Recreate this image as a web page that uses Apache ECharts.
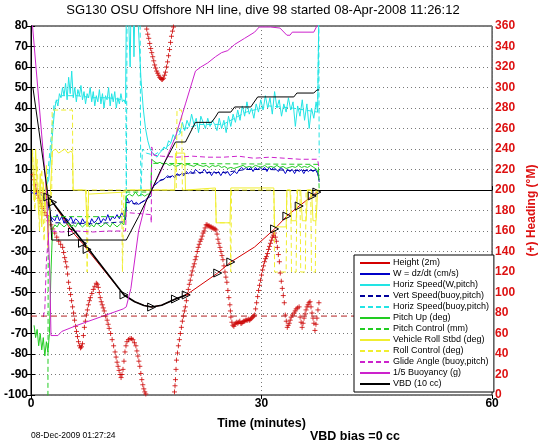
<!DOCTYPE html>
<html><head><meta charset="utf-8">
<script src="https://cdn.jsdelivr.net/npm/echarts@6/dist/echarts.min.js"></script>
<style>html,body{margin:0;padding:0;background:#fff}#c{width:546px;height:442px}</style>
</head><body><div id="c"></div><script>
// ---- tick labels / axes ----
const xTicks = [0, 30, 60];
const leftRange = [-100, 80];
const rightRange = [0, 360];

// ---- series values: [time (min), value] ----
const heightLine = [[0.5,-0.5],[1.5,-1.5],[2.2,-3.4],[2.8,-6],[5.4,-20.5],[6.7,-26],[7.3,-29],[12.1,-51.2],[13.5,-54.5],[14.7,-56.3],[15.7,-57.1],[17.0,-56.2],[18.8,-53.2],[20.2,-51.2],[22.0,-46.5],[24.3,-40.5],[26.0,-35.1],[29.1,-27.8],[31.7,-19.0],[33.3,-12.7],[34.9,-7.8],[36.6,-2.9],[37.2,-1.0]];
const heightMarks = [[2.2,-3.4],[2.8,-6],[5.4,-20.5],[6.7,-26],[7.3,-29],[12.1,-51.2],[15.7,-57.1],[18.8,-53.2],[20.2,-51.2],[24.3,-40.5],[26.0,-35.1],[31.7,-19.0],[33.3,-12.7],[34.9,-7.8],[36.6,-2.9],[37.2,-1.0]];
const heightDark = [[2.2,-3.4],[2.8,-6],[12.1,-51.2],[13.5,-54.5],[14.7,-56.3],[15.7,-57.1],[17.0,-56.2],[18.8,-53.2],[20.2,-51.2]];

const wSpeed = [[0,-1],[0.5,-2],[1.0,-1],[1.5,-3],[2.0,-5],[2.3,-9],[2.6,-13],[2.8,-13],[3.1,-15],[3.4,-12],[3.7,-15],[4.0,-13],[4.3,-16],[4.6,-14],[4.9,-15],[5.2,-13],[5.5,-16],[5.8,-14],[6.1,-15],[6.4,-17],[6.7,-14],[7.0,-16],[7.3,-15],[7.6,-17],[7.9,-14],[8.2,-16],[8.5,-15],[8.8,-13],[9.1,-16],[9.4,-14],[9.7,-15],[10.0,-12],[10.3,-15],[10.6,-13],[10.9,-14],[11.2,-12],[11.5,-14],[11.8,-11],[12.1,-13],[12.3,-12],[12.5,-4],[12.8,-6],[13.1,-5],[13.4,-7],[13.7,-6],[14.0,-7],[14.4,-6],[14.9,-5],[15.3,-3],[15.7,0],[16.0,2],[16.3,3],[16.6,4],[16.9,5],[17.2,5],[17.5,6],[17.8,7],[18.1,6],[18.4,7],[18.7,6],[19.0,8],[19.3,7],[19.6,8],[19.9,7],[20.2,9],[20.5,8],[20.8,9],[21.1,8],[21.4,10],[21.7,9],[22.0,8],[22.3,9],[22.6,10],[22.9,8],[23.2,9],[23.5,7],[23.8,9],[24.1,8],[24.4,9],[24.7,7],[25.0,9],[25.3,8],[25.6,9],[25.9,7],[26.2,8],[26.5,9],[26.8,8],[27.1,10],[27.4,11],[27.7,10],[28.0,11],[28.3,10],[28.6,11],[28.9,9],[29.2,11],[29.5,10],[29.8,11],[30.1,10],[30.4,11],[30.7,9],[31.0,11],[31.3,10],[31.6,11],[31.9,10],[32.2,9],[32.5,11],[32.8,10],[33.1,8],[33.4,10],[33.7,9],[34.0,10],[34.3,8],[34.6,10],[34.9,9],[35.2,10],[35.5,8],[35.8,10],[36.1,9],[36.4,10],[36.7,9],[37.0,10],[37.3,8],[37.5,5]];

const horizSpeedW = [[1.8,0],[2.3,5],[2.6,18],[2.9,32],[3.1,40],[3.3,44],[3.5,41],[3.7,47],[3.9,45],[4.1,50],[4.3,46],[4.5,52],[4.7,44],[4.9,55],[5.1,47],[5.3,58],[5.5,45],[5.7,50],[5.9,43],[6.1,49],[6.3,46],[6.5,51],[6.7,44],[6.9,48],[7.1,42],[7.3,47],[7.5,45],[7.7,50],[7.9,43],[8.1,48],[8.3,41],[8.5,46],[8.7,43],[8.9,49],[9.1,42],[9.3,47],[9.5,40],[9.7,46],[9.9,44],[10.1,50],[10.3,41],[10.5,47],[10.7,43],[10.9,48],[11.1,40],[11.3,45],[11.5,42],[11.7,47],[11.9,43],[12.1,44],[12.3,42],[12.4,85],[12.7,85],[12.9,60],[13.0,85],[13.3,85],[13.4,65],[13.5,85],[13.9,85],[14.1,70],[14.3,55],[14.6,40],[14.9,30],[15.2,24],[15.5,20],[15.8,18],[16.1,17],[16.4,16],[16.7,18],[17.0,19],[17.3,21],[17.6,20],[17.9,24],[18.2,23],[18.5,27],[18.8,25],[19.1,30],[19.4,28],[19.7,33],[20.0,29],[20.3,34],[20.6,31],[20.9,37],[21.2,32],[21.5,35],[21.8,28],[22.1,36],[22.4,33],[22.7,30],[23.0,35],[23.3,31],[23.6,34],[23.9,32],[24.2,29],[24.5,35],[24.8,30],[25.1,34],[25.4,28],[25.7,36],[26.0,31],[26.3,37],[26.6,33],[26.9,39],[27.2,34],[27.5,41],[27.8,36],[28.1,43],[28.4,37],[28.7,40],[29.0,35],[29.3,42],[29.6,38],[29.9,44],[30.2,39],[30.5,46],[30.8,40],[31.1,45],[31.4,37],[31.7,48],[32.0,40],[32.3,44],[32.6,36],[32.9,42],[33.2,38],[33.5,45],[33.8,39],[34.1,43],[34.4,31],[34.7,41],[35.0,36],[35.3,44],[35.6,34],[35.9,42],[36.2,30],[36.5,40],[36.8,35],[37.1,43],[37.3,38],[37.45,85]];

const vertSpeedBuoy = [[1.8,-2],[2.3,-8],[2.7,-15],[3.0,-16],[5,-16],[8,-16.5],[10,-16],[12.3,-15.5],[12.4,-6],[14,-7],[15.6,-3],[15.7,1],[16.5,4],[18,6.5],[20,8],[22,8.5],[25,8.5],[28,10],[31,10],[34,9.5],[37.3,9.5],[37.5,4]];

const horizSpeedBuoy = [[2.0,0],[2.6,25],[3.0,42],[4,46],[6,46],[8,45],[10,45],[12,44],[12.35,43],[12.4,-8],[12.5,85],[14.2,85],[14.25,29],[14.3,-3],[14.5,20],[15,18],[16,17],[18,22],[20,30],[22,32],[25,32],[28,38],[31,41],[34,40],[37.3,38],[37.45,85],[37.5,16]];

const pitchUp = [[0.4,-66],[0.6,-72],[0.8,-68],[1.0,-76],[1.2,-70],[1.4,-78],[1.6,-72],[1.8,-81],[2.0,-74],[2.2,-79],[2.4,-70],[2.6,-40],[2.8,-19],[3.1,-17],[3.4,-18],[3.7,-16],[4.0,-17],[4.3,-18],[4.6,-17],[4.9,-16],[5.2,-18],[5.5,-17],[5.8,-18],[6.1,-16],[6.4,-17],[6.7,-18],[7.0,-17],[7.3,-16],[7.6,-18],[7.9,-17],[8.2,-18],[8.5,-16],[8.8,-17],[9.1,-18],[9.4,-17],[9.7,-16],[10.0,-17],[10.3,-18],[10.6,-16],[10.9,-17],[11.2,-18],[11.5,-17],[11.8,-16],[12.1,-17],[12.3,-17],[12.4,-3],[12.8,-2],[13.2,-3],[13.6,-1],[14.0,-3],[14.4,-2],[14.8,-3],[15.2,-2],[15.6,-2],[15.7,15],[16.0,14],[16.4,13],[16.8,13.5],[17.2,12.5],[17.6,13],[18.0,12],[18.4,12.5],[18.8,11.5],[19.2,12],[19.6,13],[20.0,12],[20.4,12.5],[20.8,12],[21.2,11.5],[21.6,12.5],[22.0,12],[22.4,11.5],[22.8,12],[23.2,11],[23.6,12],[24.0,11.5],[24.4,12],[24.8,11],[25.2,11.5],[25.6,10.5],[26.0,11],[26.4,10.5],[26.8,11],[27.2,11.5],[27.6,12],[28.0,11],[28.4,11.5],[28.8,11],[29.2,12],[29.6,11.5],[30.0,11],[30.4,12],[30.8,11],[31.2,11.5],[31.6,11],[32.0,12],[32.4,11],[32.8,11.5],[33.2,10.5],[33.6,11],[34.0,11.5],[34.4,11],[34.8,12],[35.2,11],[35.6,11.5],[36.0,11],[36.4,12],[36.8,11],[37.2,10],[37.5,7]];

const pitchControl = [[0.3,-105],[2.2,-105],[2.25,-13],[12.3,-13],[12.4,-1],[15.6,-1],[15.7,13],[37.4,12.5],[37.5,0]];

const rollStbd = [[0.2,18],[0.4,-5],[0.6,20],[0.8,2],[1.0,-12],[1.2,8],[1.4,-18],[1.6,4],[1.8,-10],[2.0,12],[2.2,-28],[2.5,-2],[2.8,19],[3.2,20],[3.6,18],[4.0,19],[4.4,20],[4.8,18],[5.2,19],[5.4,18],[5.5,0],[7.1,0],[7.3,-18],[7.5,-2],[12.3,-1],[12.4,0],[18.7,0],[18.8,18],[20.0,18],[20.1,0],[24.0,1],[24.1,-16],[25.9,-16],[26.0,1],[31.6,1],[31.7,-18],[33.2,-18],[33.3,0],[33.7,0],[33.9,-15],[34.5,-15],[34.7,0],[35.1,0],[35.3,-15],[35.8,-15],[36.0,0],[36.5,0],[36.7,-15],[37.1,-15],[37.3,0],[37.5,0]];

const rollControl = [[0.2,20],[0.5,-10],[0.8,15],[1.1,-20],[1.4,10],[1.7,-25],[2.0,5],[2.4,-10],[2.7,0],[2.75,39],[5.4,39],[5.45,0],[7.2,0],[7.3,-40],[7.5,0],[11.8,0],[11.9,-40],[12.1,0],[18.9,0],[19.0,39],[19.6,39],[19.7,0],[24.0,0],[24.1,-16],[25.9,-16],[26.0,-40],[26.1,0],[31.6,0],[31.7,-40],[33.2,-40],[33.3,0],[33.8,0],[33.9,-40],[34.5,-40],[34.6,0],[35.0,0],[35.1,-40],[35.7,-40],[35.8,0],[36.4,0],[36.5,-40],[37.0,-40],[37.1,0],[37.5,0]];

const glideAngle = [[1.6,-62],[1.8,-58],[2.0,-35],[2.3,-21],[2.6,-20],[4,-20.5],[6,-20],[8,-20.5],[10,-20],[12.3,-20],[12.4,-11],[15.6,-12],[15.65,-16],[15.7,21],[16.0,17],[17,16.5],[19,16],[21,16.5],[23,16],[25,16],[27,16.5],[29,15.5],[31,16],[33,15.5],[35,15],[37.3,15],[37.5,10]];

const buoyancy = [[0,85],[0.2,80],[2.0,0],[2.45,-40],[2.6,-71],[3.5,-71],[4.0,-69],[6,-66],[9,-62],[12.0,-58],[12.4,-57],[13.0,-48],[14.0,-20],[15.0,-5],[15.7,0],[17.0,10],[18.8,26],[20.1,42],[21.4,58],[22.1,60],[23.0,62],[24.0,65],[24.8,67],[25.6,68],[26.5,71],[27.8,74],[29.1,77],[29.7,79.5],[31.2,79.5],[32.4,79],[33.3,75.5],[33.7,75.5],[34.0,77],[36.8,77],[37.2,80],[37.4,85]];

const vbd = [[0.25,50],[2.3,-5],[2.5,-10],[2.7,-24.4],[12.4,-24.4],[14.0,-13],[15.7,0],[17.0,10.7],[18.8,23.4],[20.1,23.4],[21.4,33],[23.5,33],[24.0,35.6],[24.4,38],[26.0,38],[26.5,40.5],[28.6,40.5],[29.5,45.4],[34.2,45.4],[34.6,47.3],[36.8,47.3],[37.2,48.8],[37.5,48.8]];

// heading (degrees, right axis)
const heading = [[0.26,215],[0.39,210],[0.52,205],[0.64,201],[0.77,198],[0.90,195],[1.03,192],[1.16,190],[1.29,187],[1.42,184],[1.55,182],[1.80,178],[2.06,175],[2.32,170],[2.58,166],[2.83,162],[3.09,158],[3.35,154],[3.61,150],[3.86,147],[4.12,144],[4.25,139],[4.38,134],[4.51,130],[4.64,125],[4.76,118],[4.89,110],[5.02,104],[5.15,98],[5.28,92],[5.41,86],[5.54,80],[5.67,73],[5.80,67],[5.92,62],[6.05,57],[6.18,52],[6.31,48],[6.44,46],[6.57,47],[6.70,50],[6.82,58],[6.95,66],[7.08,72],[7.21,78],[7.34,83],[7.47,88],[7.60,92],[7.73,95],[7.92,99],[8.11,103],[8.30,106],[8.50,109],[8.63,108],[8.76,105],[8.89,100],[9.01,95],[9.14,91],[9.27,88],[9.40,85],[9.53,82],[9.72,77],[9.91,73],[10.04,69],[10.17,65],[10.36,60],[10.56,54],[10.75,48],[10.94,42],[11.07,37],[11.20,32],[11.33,28],[11.46,24],[11.59,20],[11.72,17],[11.84,20],[11.97,25],[12.10,33],[12.23,42],[12.36,48],[12.49,52],[12.68,54],[12.88,55],[13.07,55],[13.26,54],[13.46,51],[13.65,48],[13.78,43],[13.91,38],[14.04,33],[14.16,28],[14.29,21],[14.42,15],[14.55,10],[14.68,6],[14.81,3],[14.94,1],[15.06,357],[15.19,352],[15.32,348],[15.45,343],[15.58,338],[15.71,334],[15.84,330],[15.97,326],[16.09,322],[16.22,319],[16.35,316],[16.48,314],[16.61,312],[16.74,310],[16.87,309],[17.00,308],[17.12,308],[17.25,309],[17.38,312],[17.51,315],[17.64,320],[17.77,325],[17.90,331],[18.03,337],[18.16,344],[18.28,350],[18.41,355],[18.54,359],[18.67,3],[18.74,9],[18.80,15],[18.87,25],[18.93,34],[19.06,41],[19.18,48],[19.31,54],[19.44,60],[19.57,66],[19.70,72],[19.83,77],[19.96,82],[20.09,86],[20.22,92],[20.34,98],[20.47,103],[20.60,108],[20.73,112],[20.86,117],[20.99,121],[21.12,125],[21.25,128],[21.37,132],[21.50,135],[21.63,140],[21.76,144],[21.89,147],[22.02,150],[22.15,152],[22.28,155],[22.40,158],[22.53,160],[22.66,163],[22.79,166],[22.92,166],[23.05,165],[23.18,165],[23.31,164],[23.44,164],[23.56,163],[23.69,163],[23.82,162],[23.95,162],[24.08,161],[24.21,157],[24.33,152],[24.46,148],[24.59,144],[24.72,140],[24.85,136],[24.98,132],[25.11,126],[25.24,120],[25.36,115],[25.49,110],[25.62,102],[25.75,95],[25.88,88],[25.95,82],[26.01,76],[26.14,71],[26.27,68],[26.40,67],[26.52,69],[26.65,70],[26.78,71],[26.91,70],[27.04,71],[27.17,72],[27.30,70],[27.42,70],[27.55,71],[27.68,72],[27.81,72],[27.94,73],[28.07,73],[28.20,73],[28.33,74],[28.45,73],[28.58,74],[28.71,75],[28.84,76],[28.97,77],[29.10,78],[29.23,84],[29.36,90],[29.49,96],[29.61,102],[29.74,107],[29.87,112],[30.00,117],[30.13,122],[30.26,126],[30.39,130],[30.52,133],[30.64,135],[30.77,138],[30.90,142],[31.03,145],[31.16,148],[31.29,151],[31.42,154],[31.55,156],[31.67,158],[31.80,154],[31.93,150],[32.06,144],[32.19,137],[32.32,130],[32.44,119],[32.57,111],[32.70,104],[32.83,97],[32.96,90],[33.09,78],[33.22,72],[33.35,66],[33.47,68],[33.60,70],[33.73,73],[33.86,76],[34.05,78],[34.25,80],[34.38,82],[34.51,84],[34.70,85],[34.89,86],[35.02,76],[35.15,71],[35.28,66],[35.40,70],[35.53,75],[35.66,79],[35.79,83],[35.92,86],[36.05,88],[36.18,90],[36.31,91],[36.44,86],[36.57,80],[36.70,75],[36.82,70],[36.95,63],[37.08,69],[37.21,75],[37.34,83],[37.47,90]];
const desiredHeading = [[0,77],[60,77]];

const names = ['Height (2m)','W = dz/dt (cm/s)','Horiz Speed(W,pitch)','Vert Speed(buoy,pitch)','Horiz Speed(buoy,pitch)','Pitch Up (deg)','Pitch Control (mm)','Vehicle Roll Stbd (deg)','Roll Control (deg)','Glide Angle (buoy,pitch)','1/5 Buoyancy (g)','VBD (10 cc)'];

const C = {red:'#d40000', blue:'#0000c8', navy:'#00009a', cyan:'#22e4e4', green:'#22cc22', yellow:'#f0ee30', magenta:'#cc22cc', black:'#000'};
const DASH = [5,3];
function ln(name, data, color, dashed, extra) {
  return Object.assign({
    name, type:'line', data, symbol:'none', showSymbol:false, animation:false,
    xAxisIndex:0, yAxisIndex:0,
    lineStyle:{color, width:1, type: dashed ? DASH : 'solid'},
    itemStyle:{color}
  }, extra || {});
}

const font = 'Liberation Sans, Arial, Helvetica, sans-serif';
const chart = echarts.init(document.getElementById('c'), null, {renderer:'canvas'});
chart.setOption({
  animation:false,
  textStyle:{fontFamily:font},
  grid:{left:31, right:49, top:26, bottom:47, show:true, borderColor:'#000', borderWidth:1, backgroundColor:'transparent'},
  xAxis:[{
    type:'value', min:xTicks[0], max:xTicks[2], interval:30,
    name:'Time (minutes)', nameLocation:'middle', nameGap:22,
    nameTextStyle:{fontWeight:'bold', fontSize:12.5, color:'#000', fontFamily:font},
    axisLine:{lineStyle:{color:'#000'}}, axisTick:{inside:true, length:4, lineStyle:{color:'#000'}},
    axisLabel:{fontWeight:'bold', fontSize:12, color:'#000', margin:3, fontFamily:font},
    splitLine:{show:true, lineStyle:{color:'#777', type:[1,3], width:1}}
  },{
    type:'value', position:'top', min:xTicks[0], max:xTicks[2], interval:30,
    axisLine:{show:false}, axisTick:{inside:true, length:4, lineStyle:{color:'#000'}},
    axisLabel:{show:false}, splitLine:{show:false}
  }],
  yAxis:[{
    type:'value', min:leftRange[0], max:leftRange[1], interval:10,
    axisLine:{show:true, lineStyle:{color:'#000'}}, axisTick:{inside:true, length:4, lineStyle:{color:'#000'}},
    axisLabel:{fontWeight:'bold', fontSize:12, color:'#000', margin:3, fontFamily:font},
    splitLine:{show:true, lineStyle:{color:'#777', type:[1,3], width:1}}
  },{
    type:'value', position:'right', min:rightRange[0], max:rightRange[1], interval:20,
    name:'(+) Heading (\u00B0M)', nameLocation:'middle', nameGap:24, nameRotate:90,
    nameTextStyle:{fontWeight:'bold', fontSize:12, color:'#dd1111', fontFamily:font},
    axisLine:{show:true, lineStyle:{color:'#000'}}, axisTick:{inside:true, length:4, lineStyle:{color:'#000'}},
    axisLabel:{fontWeight:'bold', fontSize:12, color:'#dd1111', margin:3, fontFamily:font},
    splitLine:{show:false}
  }],
  legend:{
    data:names, orient:'vertical', left:354, top:255,
    itemWidth:30, itemHeight:8, itemGap:1,
    padding:[3,5,3,5],
    itemStyle:{opacity:0},
    backgroundColor:'#fff', borderColor:'#000', borderWidth:1, borderRadius:0,
    textStyle:{fontSize:9, lineHeight:10, color:'#000', fontFamily:font, padding:[0,0,0,-2]},
    selectedMode:false
  },
  graphic:[
    {type:'text', x:263, y:4, style:{text:'SG130 OSU Offshore NH line, dive 98 started 08-Apr-2008 11:26:12', textAlign:'center', font:'13px '+font, fill:'#000'}},
    {type:'text', x:31, y:431, style:{text:'08-Dec-2009 01:27:24', font:'8.5px '+font, fill:'#000'}},
    {type:'text', x:310, y:430, style:{text:'VBD bias =0 cc', font:'bold 12.5px '+font, fill:'#000'}}
  ],
  series:[
    ln(names[0], heightLine, C.red, false),
    ln('hdark', heightDark, '#000', false, {lineStyle:{color:'#000', width:1.6}}),
    ln('hmarks', heightMarks, '#000', false, {symbol:'triangle', symbolRotate:-90, symbolSize:8, showSymbol:true, lineStyle:{width:0, opacity:0}, itemStyle:{color:'rgba(0,0,0,0)', borderColor:'#000', borderWidth:1}}),
    ln(names[1], wSpeed, C.blue, false),
    ln(names[2], horizSpeedW, C.cyan, false),
    ln(names[3], vertSpeedBuoy, C.navy, true),
    ln(names[4], horizSpeedBuoy, C.cyan, true),
    ln(names[5], pitchUp, C.green, false),
    ln(names[6], pitchControl, C.green, true),
    ln(names[7], rollStbd, C.yellow, false),
    ln(names[8], rollControl, C.yellow, true),
    ln(names[9], glideAngle, C.magenta, true),
    ln(names[10], buoyancy, C.magenta, false),
    ln(names[11], vbd, C.black, false),
    ln('desired', desiredHeading, '#b02020', true, {yAxisIndex:1, lineStyle:{color:'#b02020', width:1, type:[6,4]}}),
    {name:'heading', type:'scatter', yAxisIndex:1, data:heading, symbol:'path://M0,5L10,5M5,0L5,10', symbolSize:5,
     itemStyle:{color:'none', borderColor:'#cc0000', borderWidth:1}, animation:false}
  ]
});
</script></body></html>
